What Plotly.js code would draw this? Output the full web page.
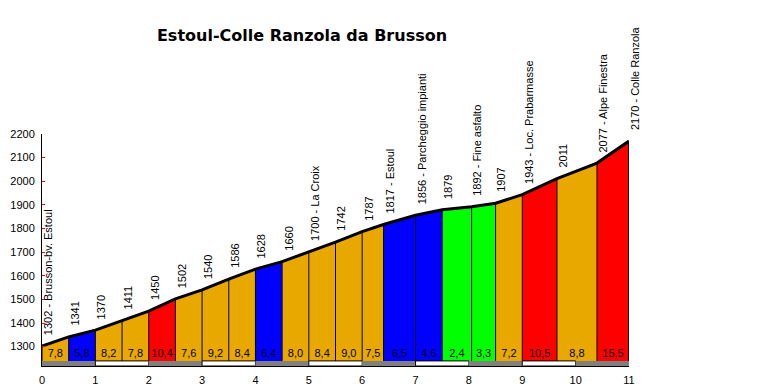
<!DOCTYPE html>
<html>
<head>
<meta charset="utf-8">
<script src="https://cdn.plot.ly/plotly-3.0.1.min.js"></script>
<style>html,body{margin:0;padding:0;background:#fff;}#chart{width:780px;height:392px;}</style>
</head>
<body>
<div id="chart"></div>
<script>
// Distances (km) of each point
const dist = [0, 0.5, 1, 1.5, 2, 2.5, 3, 3.5, 4, 4.5, 5, 5.5, 6, 6.4, 7, 7.5, 8.05, 8.5, 9, 9.65, 10.4, 11];
// Elevations (m)
const elev = [1302, 1341, 1370, 1411, 1450, 1502, 1540, 1586, 1628, 1660, 1700, 1742, 1787, 1817, 1856, 1879, 1892, 1907, 1943, 2011, 2077, 2170];
// Point names
const names = ["Brusson-bv. Estoul", "", "", "", "", "", "", "", "", "", "La Croix", "", "", "Estoul", "Parcheggio impianti", "", "Fine asfalto", "", "Loc. Prabarmasse", "", "Alpe Finestra", "Colle Ranzola"];
// Gradients (%) of each segment
const grad = [7.8, 5.8, 8.2, 7.8, 10.4, 7.6, 9.2, 8.4, 6.4, 8.0, 8.4, 9.0, 7.5, 6.5, 4.6, 2.4, 3.3, 7.2, 10.5, 8.8, 15.5];
// Axis ticks
const xTicks = [0, 1, 2, 3, 4, 5, 6, 7, 8, 9, 10, 11];
const yTicks = [1300, 1400, 1500, 1600, 1700, 1800, 1900, 2000, 2100, 2200];

const Y_MIN = 1218, Y_MAX = 2200, BASE = 1239.5;
const ORANGE = "#E8A800";
const FONT = "Liberation Sans, Arial, sans-serif";

function gradColor(g) {
  if (g < 4) return "#00FF00";
  if (g < 7) return "#0000FF";
  if (g < 10) return ORANGE;
  return "#FF0000";
}

const traces = [];
for (let i = 0; i < grad.length; i++) {
  traces.push({
    x: [dist[i], dist[i], dist[i + 1], dist[i + 1], dist[i]],
    y: [BASE, elev[i], elev[i + 1], BASE, BASE],
    mode: "lines", fill: "toself", fillcolor: gradColor(grad[i]),
    line: {width: 0}, hoverinfo: "skip", showlegend: false
  });
}
// vertical separators
const vx = [], vy = [];
for (let i = 0; i < dist.length; i++) {
  vx.push(dist[i], dist[i], null);
  vy.push(BASE, elev[i], null);
}
traces.push({x: vx, y: vy, mode: "lines", line: {color: "#000", width: 1}, hoverinfo: "skip", showlegend: false});
// right end thicker edge
traces.push({x: [dist[dist.length - 1], dist[dist.length - 1]], y: [BASE, elev[elev.length - 1]], mode: "lines", line: {color: "#000", width: 2}, hoverinfo: "skip", showlegend: false});
// profile line
traces.push({x: dist, y: elev, mode: "lines", line: {color: "#000", width: 3}, hoverinfo: "skip", showlegend: false});
// gradient labels
const mids = [], gtext = [];
for (let i = 0; i < grad.length; i++) {
  mids.push((dist[i] + dist[i + 1]) / 2);
  gtext.push(grad[i].toFixed(1).replace(".", ","));
}
traces.push({
  x: mids, y: mids.map(() => 1268), text: gtext, mode: "text",
  textfont: {family: FONT, size: 11, color: "#000"},
  textposition: "middle center", hoverinfo: "skip", showlegend: false, cliponaxis: false
});

const annotations = dist.map((d, i) => ({
  x: d, y: elev[i], xref: "x", yref: "y",
  text: names[i] ? elev[i] + " - " + names[i] : String(elev[i]),
  textangle: -90, showarrow: false, xanchor: "center", yanchor: "bottom",
  xshift: 6, yshift: 9,
  font: {family: FONT, size: 11, color: "#000"}
}));

const shapes = [];
for (let k = 0; k < 11; k++) {
  const gray = k % 2 === 0;
  shapes.push({
    type: "rect", xref: "x", yref: "y", x0: xTicks[k], x1: xTicks[k + 1], y0: Y_MIN, y1: BASE,
    fillcolor: gray ? "#808080" : "#FFFFFF",
    line: gray ? {width: 0} : {color: "#000", width: 1}
  });
}

const layout = {
  width: 780, height: 392,
  margin: {l: 42, r: 151, t: 134, b: 26, pad: 0},
  paper_bgcolor: "#fff", plot_bgcolor: "#fff",
  title: {
    text: "<b>Estoul-Colle Ranzola da Brusson</b>",
    x: 302 / 780, xanchor: "center", y: 1 - 35 / 392, yanchor: "middle",
    font: {family: "DejaVu Sans, sans-serif", size: 16, color: "#000"}
  },
  xaxis: {
    range: [0, 11], tickvals: xTicks, ticktext: xTicks.map(String),
    showgrid: false, zeroline: false, showline: true, linecolor: "#000", linewidth: 1,
    ticks: "", ticklabelstandoff: 4, tickfont: {family: FONT, size: 11, color: "#000"}
  },
  yaxis: {
    range: [Y_MIN, Y_MAX], tickvals: yTicks, ticktext: yTicks.map(String),
    showgrid: false, zeroline: false, showline: true, linecolor: "#000", linewidth: 1,
    ticks: "inside", ticklen: 3, tickcolor: "#FF0000", tickwidth: 1,
    ticklabelstandoff: 4,
    tickfont: {family: FONT, size: 11, color: "#000"}
  },
  shapes: shapes,
  annotations: annotations,
  showlegend: false
};

Plotly.newPlot("chart", traces, layout, {displayModeBar: false, staticPlot: true});
</script>
</body>
</html>
